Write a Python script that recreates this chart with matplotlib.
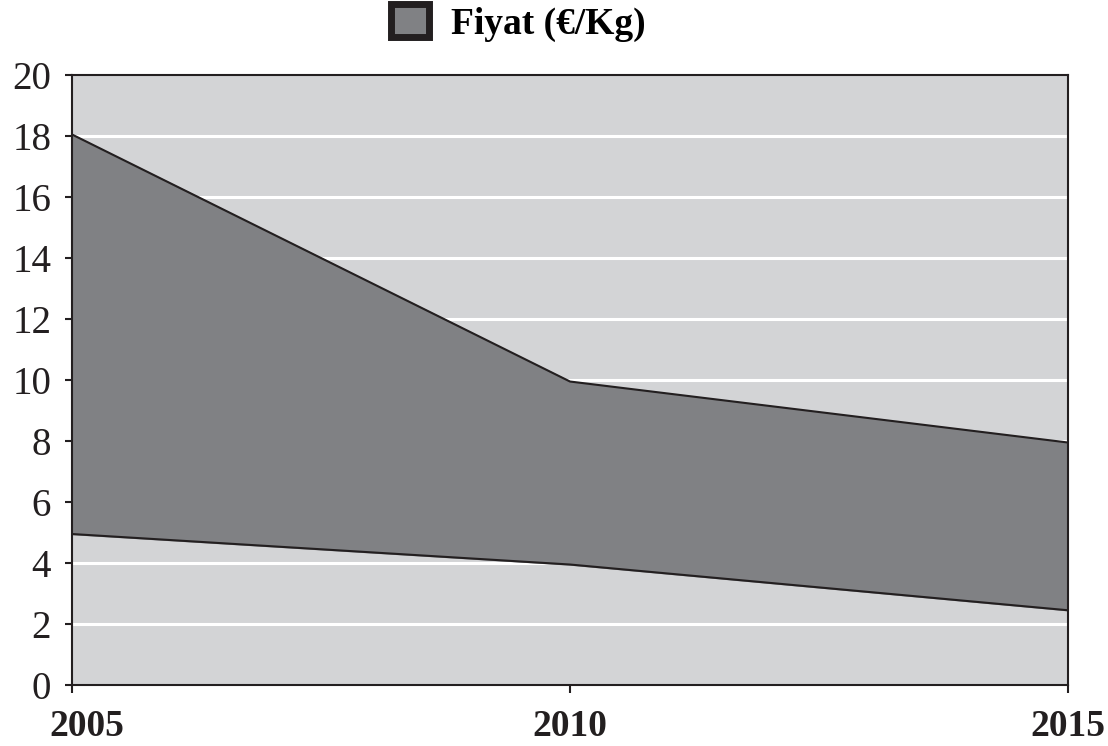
import matplotlib.pyplot as plt
import matplotlib.transforms as mtransforms
from matplotlib.patches import Patch

years = [2005, 2010, 2015]
price_low = [4.95, 3.95, 2.45]
price_high = [18.05, 9.95, 7.95]
yticks = [0, 2, 4, 6, 8, 10, 12, 14, 16, 18, 20]

plt.rcParams['font.family'] = ['Liberation Serif', 'DejaVu Serif']

fig = plt.figure(figsize=(11.08, 7.46), dpi=100)
ax = fig.add_axes([72 / 1108, 1 - 685 / 746, 996 / 1108, 610 / 746])

ax.set_facecolor('#d3d4d6')
ax.fill_between(years, price_low, price_high, color='#808184', zorder=2)
ax.plot(years, price_low, color='#231f20', lw=1.5, zorder=3)
ax.plot(years, price_high, color='#231f20', lw=1.5, zorder=3)

for y in yticks[1:-1]:
    ax.axhline(y, color='white', lw=2.2, zorder=1)

ax.set_xlim(2005, 2015)
ax.set_ylim(0, 20)
ax.set_yticks(yticks)
ax.set_yticklabels([str(v) for v in yticks], fontsize=28, color='#231f20')
ax.set_xticks(years)
ax.set_xticklabels([str(v) for v in years], fontsize=27, fontweight='bold', color='#231f20')
ax.tick_params(axis='y', direction='out', length=5, width=1.5, pad=10, colors='#231f20')
ax.tick_params(axis='x', direction='out', length=6, width=1.5, pad=11, colors='#231f20')

lbls = ax.get_xticklabels()
lbls[0].set_transform(lbls[0].get_transform() + mtransforms.ScaledTranslation(15 / 100, 0, fig.dpi_scale_trans))

for s in ax.spines.values():
    s.set_color('#231f20')
    s.set_linewidth(1.5)

handle = Patch(facecolor='#808184', edgecolor='#231f20', linewidth=5)
fig.legend([handle], ['Fiyat (€/Kg)'], loc='upper center', bbox_to_anchor=(0.468, 1.0),
           frameon=False, prop={'size': 27, 'weight': 'bold'}, borderaxespad=0.0, borderpad=0.1,
           handlelength=1.0, handleheight=1.0, handletextpad=0.6)

fig.savefig('out.png', dpi=100)
